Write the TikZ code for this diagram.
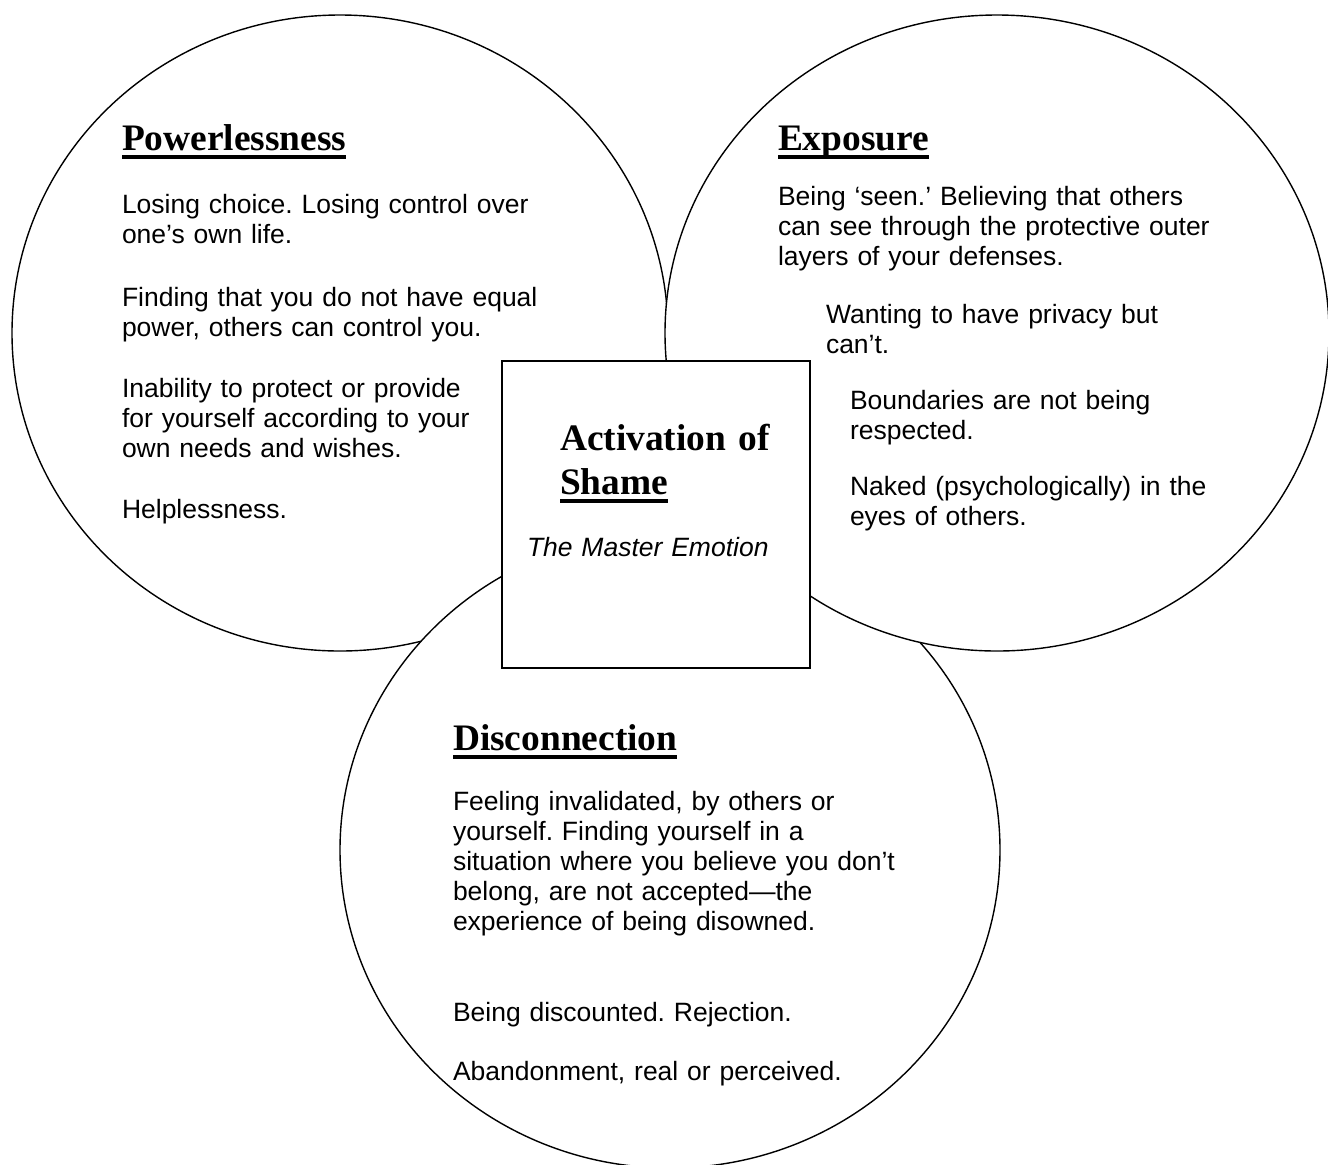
\documentclass[tikz,border=0pt]{standalone}
\usepackage{fontspec}
\setmainfont{Liberation Sans}
\newfontfamily\headfont{Liberation Serif}
\usetikzlibrary{shapes.geometric}
\newcommand\hul[1]{\leavevmode\setbox2=\hbox{#1}\rlap{\rule[-4.4pt]{\wd2}{1.8pt}}\box2}
\begin{document}
\begin{tikzpicture}[x=0.5pt,y=-0.5pt,
  every node/.style={inner sep=0pt, outer sep=0pt},
  blob/.style={ellipse, draw, line width=0.7pt, fill=white},
  body/.style={anchor=base west, align=left, text width=400pt,
    font=\frenchspacing\fontsize{13.25}{15}\selectfont},
  head/.style={anchor=base west, align=left, text width=400pt,
    font=\headfont\bfseries\fontsize{18.7}{22}\selectfont}]
\useasboundingbox (0,0) rectangle (1328,1164);
% circles
\node[blob, minimum width=328pt, minimum height=318pt] (left) at (340,333) {};
\node[blob, minimum width=330pt, minimum height=318pt] (bottom) at (670,850) {};
\node[blob, minimum width=332pt, minimum height=318pt] (right) at (997,333) {};
\node[draw, line width=0.7pt, fill=white, minimum width=154pt, minimum height=153.5pt] (box) at (656,514.5) {};
% left texts
\node[head] (ph) at (122,150) {\hul{Powerlessness}};
\node[body] (p1) at (122,213) {Losing choice. Losing control over\\one’s own life.};
\node[body] (p2) at (122,306) {Finding that you do not have equal\\power, others can control you.};
\node[body] (p3) at (122,397) {Inability to protect or provide\\for yourself according to your\\own needs and wishes.};
\node[body] (p4) at (122,518) {Helplessness.};
% right texts
\node[head] (eh) at (778,150) {\hul{Exposure}};
\node[body] (e1) at (778,205) {Being ‘seen.’ Believing that others\\can see through the protective outer\\layers of your defenses.};
\node[body] (e2) at (826,323) {Wanting to have privacy but\\can’t.};
\node[body] (e3) at (850,409) {Boundaries are not being\\respected.};
\node[body] (e4) at (850,495) {Naked (psychologically) in the\\eyes of others.};
% box texts
\node[head] (sh) at (560,450) {Activation of\\\hul{Shame}};
\node[body] (me) at (527,556) {\itshape The Master Emotion};
% bottom texts
\node[head] (dh) at (453,750) {\hul{Disconnection}};
\node[body] (d1) at (453,810) {Feeling invalidated, by others or\\yourself. Finding yourself in a\\situation where you believe you don’t\\belong, are not accepted—the\\experience of being disowned.};
\node[body] (d2) at (453,1021) {Being discounted. Rejection.};
\node[body] (d3) at (453,1080) {Abandonment, real or perceived.};
\end{tikzpicture}
\end{document}
